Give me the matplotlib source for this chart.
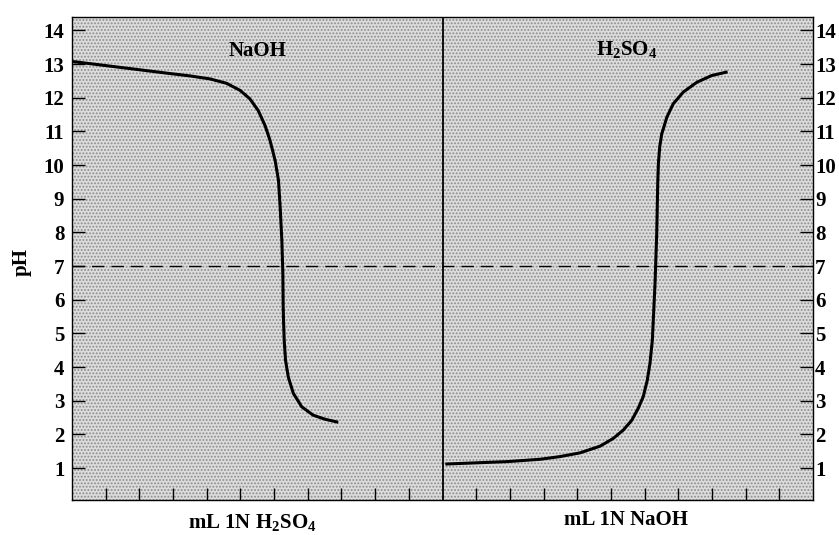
import matplotlib
matplotlib.use("Agg")
import matplotlib.pyplot as plt

plt.rcParams['font.family'] = ['Liberation Serif', 'DejaVu Serif']
plt.rcParams['font.weight'] = 'bold'
plt.rcParams['mathtext.fontset'] = 'custom'
plt.rcParams['mathtext.rm'] = 'Liberation Serif:bold'
plt.rcParams['mathtext.it'] = 'Liberation Serif:bold'
plt.rcParams['mathtext.bf'] = 'Liberation Serif:bold'
plt.rcParams['hatch.linewidth'] = 0.9

# --- data (mL titrant, pH) ---
naoh_ml = [0.0, 1.62, 2.91, 3.50, 4.10, 4.59, 4.99, 5.28, 5.53, 5.73, 5.88,
           6.03, 6.13, 6.18, 6.23, 6.26, 6.27, 6.28, 6.30, 6.34, 6.42, 6.57,
           6.82, 7.16, 7.51, 7.86]
naoh_ph = [13.08, 12.88, 12.72, 12.65, 12.56, 12.43, 12.22, 11.97, 11.62,
           11.18, 10.73, 10.14, 9.55, 8.75, 7.77, 6.78, 5.79, 5.39, 4.80, 4.20,
           3.71, 3.22, 2.82, 2.57, 2.45, 2.37]

h2so4_ml = [0.13, 1.91, 2.90, 3.49, 4.08, 4.68, 5.07, 5.37, 5.62, 5.81, 5.96,
            6.08, 6.16, 6.23, 6.31, 6.36, 6.38, 6.39, 6.41, 6.45, 6.51, 6.66,
            6.85, 7.15, 7.55, 7.99, 8.42]
h2so4_ph = [1.12, 1.19, 1.26, 1.34, 1.45, 1.65, 1.88, 2.13, 2.42, 2.77, 3.12,
            3.61, 4.11, 4.80, 6.48, 7.96, 8.95, 9.45, 10.05, 10.55, 10.93,
            11.42, 11.82, 12.17, 12.46, 12.66, 12.76]

panel_width = 11
x_ticks_left = [1, 2, 3, 4, 5, 6, 7, 8, 9, 10]
ph_ticks = list(range(1, 15))
neutral_ph = 7

titles = ['NaOH', r'H$_2$SO$_4$']
xlabels = [r'mL 1N H$_2$SO$_4$', 'mL 1N NaOH']
ylabel = 'pH'

fig = plt.figure(figsize=(8.39, 5.35), dpi=100)
ax = fig.add_axes([72/839, 1-500/535, (813-72)/839, (500-17)/535])
ax.set_xlim(0, 2*panel_width)
ax.set_ylim(0.05, 14.4)

ax.patch.set_facecolor('#dcdcdc')
ax.patch.set_edgecolor('#8c8c8c')
ax.patch.set_linewidth(0)
ax.patch.set_hatch('.....')

for s in ax.spines.values():
    s.set_linewidth(1.0)

ax.axvline(panel_width, color='black', lw=1.3)
ax.axhline(neutral_ph, color='black', lw=1.0, dashes=(9, 5))

ax.plot(naoh_ml, naoh_ph, color='black', lw=2.2, solid_joinstyle='round')
ax.plot([panel_width + v for v in h2so4_ml], h2so4_ph, color='black', lw=2.2,
        solid_joinstyle='round')

ax.set_xticks(x_ticks_left + [panel_width + t for t in x_ticks_left])
ax.tick_params(axis='x', direction='in', length=8.6, width=1.0, labelbottom=False)
ax.set_yticks(ph_ticks)
ax.set_yticklabels([str(t) for t in ph_ticks])
ax.tick_params(axis='y', direction='in', length=9.5, width=1.0, pad=5.5,
               labelsize=15)

ax2 = ax.twinx()
ax2.set_ylim(ax.get_ylim())
ax2.set_yticks(ph_ticks)
ax2.set_yticklabels([str(t) for t in ph_ticks])
ax2.tick_params(axis='y', direction='in', length=9.5, width=1.0, pad=1.5,
                labelsize=15)
for s in ax2.spines.values():
    s.set_visible(False)

ax.text(5.52, 13.23, titles[0], ha='center', va='baseline', fontsize=15,
        fontweight='bold')
ax.text(16.48, 13.26, titles[1], ha='center', va='baseline', fontsize=15,
        fontweight='bold')

fig.text(252/839, 1-528/535, xlabels[0], ha='center', va='baseline',
         fontsize=15, fontweight='bold')
fig.text(626/839, 1-525/535, xlabels[1], ha='center', va='baseline',
         fontsize=15, fontweight='bold')
fig.text(22/839, 1-262/535, ylabel, ha='center', va='center', rotation=90,
         fontsize=15, fontweight='bold')

fig.savefig('out.png', dpi=100)
